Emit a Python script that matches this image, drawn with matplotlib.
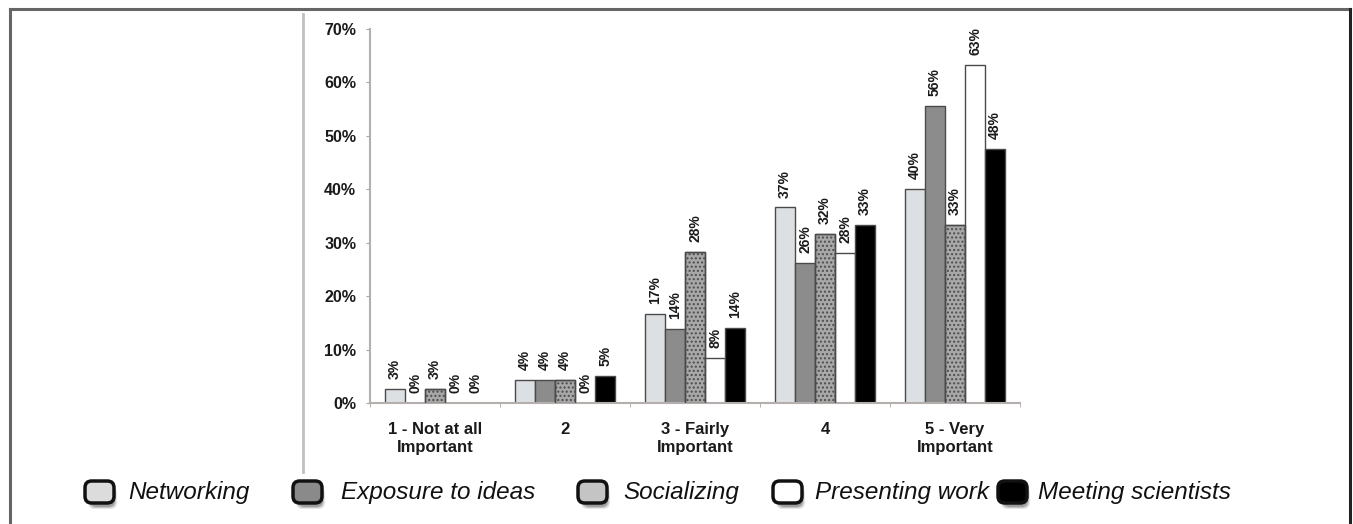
import matplotlib.pyplot as plt
import numpy as np
from matplotlib.patches import FancyBboxPatch
from matplotlib.lines import Line2D

plt.rcParams['font.family'] = ['Liberation Sans', 'DejaVu Sans']

categories = ["1 - Not at all\nImportant", "2", "3 - Fairly\nImportant", "4", "5 - Very\nImportant"]
series = ["Networking", "Exposure to ideas", "Socializing", "Presenting work", "Meeting scientists"]

networking = [2.6, 4.3, 16.7, 36.6, 40.1]
exposure = [0.0, 4.3, 13.9, 26.2, 55.6]
socializing = [2.7, 4.3, 28.3, 31.6, 33.3]
presenting = [0.0, 0.0, 8.5, 28.1, 63.3]
meeting = [0.0, 5.1, 14.0, 33.3, 47.6]

values = [networking, exposure, socializing, presenting, meeting]
yticks = [0, 10, 20, 30, 40, 50, 60, 70]

faces = ["#dde0e3", "#8c8c8c", "#a8a8a8", "#ffffff", "#000000"]
hatches = [None, None, "....", None, None]
hatch_cols = [None, None, "#4e4e4e", None, None]
swatch_faces = ["#dcdcdc", "#8a8a8a", "#c4c4c4", "#ffffff", "#000000"]

fig = plt.figure(figsize=(13.53, 5.24), dpi=100)
ax = fig.add_axes([0.2735, 0.2309, 0.4804, 0.7137])

x = np.arange(len(categories))
w = 0.154
for i, vals in enumerate(values):
    pos = x + (i - 2) * w
    ax.bar(pos, vals, width=w, color=faces[i], edgecolor="#4a4a4a", linewidth=1.0, zorder=2)
    if hatches[i]:
        ax.bar(pos, vals, width=w, color="none", edgecolor=hatch_cols[i], hatch=hatches[i],
               linewidth=0, zorder=3)
        ax.bar(pos, vals, width=w, color="none", edgecolor="#4a4a4a", linewidth=1.0, zorder=4)
    for px, v in zip(pos, vals):
        ax.annotate(f"{v:.0f}%", (px, v), xytext=(0, 7), textcoords="offset points",
                    rotation=90, ha="center", va="bottom", fontsize=10,
                    fontweight="bold", color="#1a1a1a")

ax.set_xlim(-0.5, 4.5)
ax.set_ylim(0, 70)
ax.set_yticks(yticks)
ax.set_yticklabels([f"{t}%" for t in yticks], fontsize=11.5, fontweight="bold", color="#1a1a1a")
ax.set_xticks(x)
ax.set_xticklabels(categories, fontsize=12, fontweight="bold", color="#1a1a1a")
ax.set_xticks(np.arange(-0.5, 5.0, 1.0), minor=True)
ax.tick_params(axis="x", which="major", length=0, pad=14)
ax.tick_params(axis="x", which="minor", length=3, color="#a8a2a0", direction="out")
ax.tick_params(axis="y", length=3, color="#a8a2a0", pad=7)
for s in ["top", "right"]:
    ax.spines[s].set_visible(False)
for s in ["left", "bottom"]:
    ax.spines[s].set_color("#b4aeac")
    ax.spines[s].set_linewidth(1.5)

# outer frame and the separator line left of the axis
W, H = 1353, 524
def fx(px):
    return px / W
def fy(py):
    return 1 - py / H

frame = dict(color="#666666", linewidth=2.2, transform=fig.transFigure)
fig.add_artist(Line2D([fx(10), fx(1350)], [fy(9), fy(9)], **frame))
fig.add_artist(Line2D([fx(10), fx(10)], [fy(9), 0], **frame))
fig.add_artist(Line2D([fx(1350), fx(1350)], [fy(9), 0], color="#222222", linewidth=2.2,
                      transform=fig.transFigure))
fig.add_artist(Line2D([fx(303), fx(303)], [fy(14), fy(472)], color="#c4bebc", linewidth=2,
                      transform=fig.transFigure))

# legend with rounded, shadowed swatches
sw_left = [85, 293, 578, 773, 998]
tx_left = [128, 341, 623, 815, 1038]
sw_w, sw_h = 29, 22
sw_top = 481
for i, name in enumerate(series):
    x0 = sw_left[i]
    for k, a in enumerate([0.12, 0.18, 0.25]):
        sh = FancyBboxPatch((fx(x0 + 3 + k), fy(sw_top + sw_h + 6 - k)), fx(sw_w - 2 * k), sw_h / H,
                            boxstyle="round,pad=0,rounding_size=0.005",
                            transform=fig.transFigure, facecolor="#303030", edgecolor="none",
                            alpha=a, mutation_aspect=W / H)
        fig.add_artist(sh)
    p = FancyBboxPatch((fx(x0), fy(sw_top + sw_h)), fx(sw_w), sw_h / H,
                       boxstyle="round,pad=0,rounding_size=0.005",
                       transform=fig.transFigure, facecolor=swatch_faces[i],
                       edgecolor="#111111", linewidth=2.5, mutation_aspect=W / H)
    fig.add_artist(p)
    fig.text(fx(tx_left[i]), fy(sw_top + sw_h / 2), name, fontsize=17.5, style="italic",
             ha="left", va="center", color="#111111")

fig.savefig("out.png", dpi=100, facecolor="white")
